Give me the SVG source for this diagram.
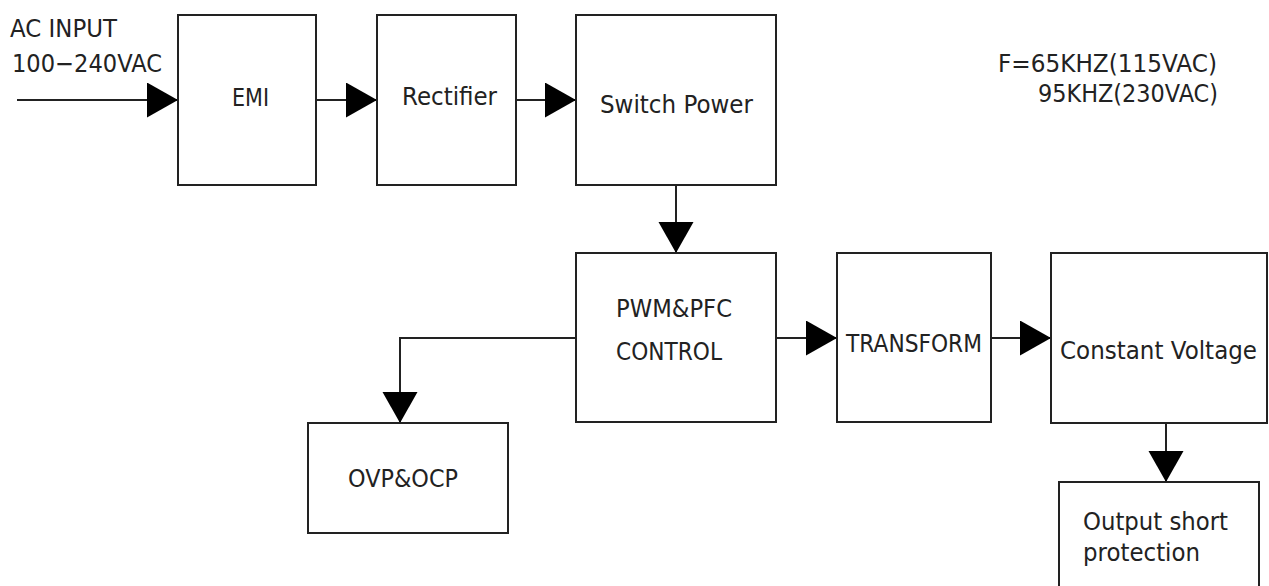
<svg xmlns="http://www.w3.org/2000/svg" width="1269" height="586" viewBox="0 0 1269 586">
<style>
.box{fill:#fff;stroke:#222;stroke-width:2}
.ln{fill:none;stroke:#222;stroke-width:2;marker-end:url(#ah)}
text{font-family:"DejaVu Sans","Liberation Sans",sans-serif;font-size:24.5px;fill:#222}
</style>
<defs>
<marker id="ah" markerUnits="userSpaceOnUse" markerWidth="32" markerHeight="36" refX="31" refY="17.5" orient="auto" viewBox="0 0 32 36">
<path d="M0,0 L31,17.5 L0,35 Z" fill="#000"/>
</marker>
</defs>
<rect width="1269" height="586" fill="#fff"/>
<g id="connectors">
<path class="ln" d="M17,100 H178"/>
<path class="ln" d="M316,100 H377"/>
<path class="ln" d="M516,100 H576"/>
<path class="ln" d="M676,185 V253"/>
<path class="ln" d="M776,338 H837"/>
<path class="ln" d="M991,338 H1051"/>
<path class="ln" d="M576,338 H400 V423"/>
<path class="ln" d="M1166,423 V482"/>
</g>
<g id="label-input">
<text x="10" y="37" textLength="107" lengthAdjust="spacingAndGlyphs">AC INPUT</text>
<text x="12" y="72" textLength="150" lengthAdjust="spacingAndGlyphs">100−240VAC</text>
</g>
<g id="label-freq">
<text x="998" y="72" textLength="219" lengthAdjust="spacingAndGlyphs">F=65KHZ(115VAC)</text>
<text x="1038" y="102" textLength="180" lengthAdjust="spacingAndGlyphs">95KHZ(230VAC)</text>
</g>
<g id="emi">
<rect class="box" x="178" y="15" width="138" height="170"/>
<text x="232" y="106" textLength="37" lengthAdjust="spacingAndGlyphs">EMI</text>
</g>
<g id="rectifier">
<rect class="box" x="377" y="15" width="139" height="170"/>
<text x="402" y="105" textLength="95" lengthAdjust="spacingAndGlyphs">Rectifier</text>
</g>
<g id="switch-power">
<rect class="box" x="576" y="15" width="200" height="170"/>
<text x="600" y="113" textLength="153" lengthAdjust="spacingAndGlyphs">Switch Power</text>
</g>
<g id="pwm-pfc">
<rect class="box" x="576" y="253" width="200" height="169"/>
<text x="616" y="317" textLength="116" lengthAdjust="spacingAndGlyphs">PWM&amp;PFC</text>
<text x="616" y="360" textLength="106" lengthAdjust="spacingAndGlyphs">CONTROL</text>
</g>
<g id="transform">
<rect class="box" x="837" y="253" width="154" height="169"/>
<text x="846" y="352" textLength="136" lengthAdjust="spacingAndGlyphs">TRANSFORM</text>
</g>
<g id="constant-voltage">
<rect class="box" x="1051" y="253" width="216" height="170"/>
<text x="1060" y="359" textLength="197" lengthAdjust="spacingAndGlyphs">Constant Voltage</text>
</g>
<g id="ovp-ocp">
<rect class="box" x="308" y="423" width="200" height="110"/>
<text x="348" y="487" textLength="110" lengthAdjust="spacingAndGlyphs">OVP&amp;OCP</text>
</g>
<g id="output-short">
<rect class="box" x="1059" y="482" width="200" height="130"/>
<text x="1083" y="530" textLength="145" lengthAdjust="spacingAndGlyphs">Output short</text>
<text x="1083" y="561" textLength="117" lengthAdjust="spacingAndGlyphs">protection</text>
</g>
</svg>
